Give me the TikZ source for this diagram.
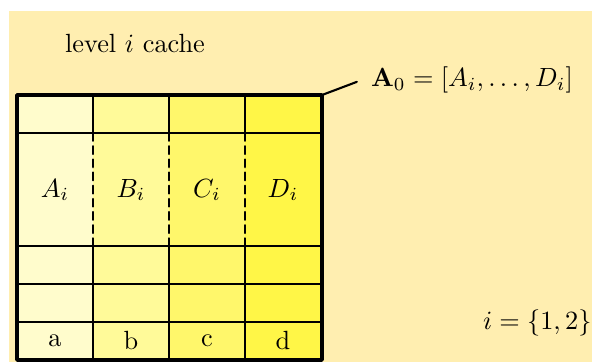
\documentclass[tikz,border=0pt]{standalone}
\definecolor{cachebg}{RGB}{255,238,176}
\begin{document}
\begin{tikzpicture}[x=0.38pt,y=-0.38pt,line join=round,line cap=round]
			\tikzset{cellrule/.style={line width=0.8pt},
				framerule/.style={line width=1.3pt,line cap=rect},
				partrule/.style={line width=0.8pt,dash pattern=on 3pt off 2pt}}
			\useasboundingbox (0,0) rectangle (592,362);
			\fill[cachebg] (9,11) rectangle (592,362);
			% columns of the cache
			\foreach \c/\tint/\lbl/\blk in {0/20/a/A,1/40/b/B,2/58/c/C,3/72/d/D}
			{
				\fill[yellow!\tint] (17+76*\c,95) rectangle ++(76,265);
				\node (blk\c) at (55+76*\c,190) {$\blk_i$};
				\node (tag\c) at (55+76*\c,341) {\lbl};
			}
			\foreach \y in {133,246,284,322}
			\draw[cellrule] (17,\y)--(322,\y);
			\foreach \x in {93,169,245}
			{
				\draw[cellrule] (\x,95)--(\x,133);
				\draw[partrule] (\x,133)--(\x,246);
				\draw[cellrule] (\x,246)--(\x,360);
			}
			\draw[framerule] (17,95) rectangle (322,360);
			\coordinate (corner) at (322,95);
			\node (title) at (135,44) {level $i$ cache};
			\node (aset) at (472,80) {$\mathbf{A}_0=[A_i,\ldots,D_i]$};
			\node[anchor=east,inner sep=0pt] (range) at (592,323) {$i=\{1,2\}$};
			\draw[cellrule,shorten >=2pt] (corner)--(aset.west);
		\end{tikzpicture}
\end{document}
